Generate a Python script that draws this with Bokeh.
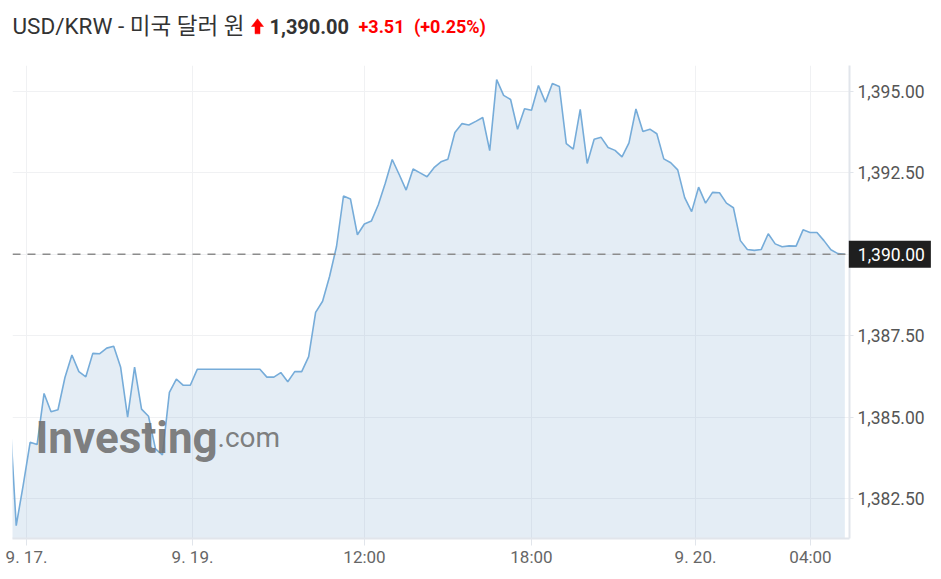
from bokeh.plotting import figure
from bokeh.layouts import column
from bokeh.models import Range1d, Span, Label, FixedTicker, NumeralTickFormatter
from bokeh.embed import file_html
from bokeh.resources import INLINE

# ---------------- data ----------------
title_text = "USD/KRW - 미국 달러 원"
last_price_text = "1,390.00"
change_text = "+3.51"
change_pct_text = "(+0.25%)"
last_price = 1390.00

prices = [
    1385.40, 1381.67, 1382.91, 1384.23, 1384.16, 1385.73, 1385.17, 1385.23, 1386.22, 1386.91,
    1386.40, 1386.24, 1386.96, 1386.95, 1387.12, 1387.18, 1386.53, 1385.00, 1386.54, 1385.25,
    1385.03, 1384.03, 1383.84, 1385.76, 1386.17, 1385.98, 1385.98, 1386.47, 1386.47, 1386.47,
    1386.47, 1386.47, 1386.47, 1386.47, 1386.47, 1386.47, 1386.47, 1386.23, 1386.23, 1386.37,
    1386.09, 1386.40, 1386.40, 1386.86, 1388.22, 1388.56, 1389.32, 1390.24, 1391.79, 1391.70,
    1390.60, 1390.93, 1391.02, 1391.52, 1392.18, 1392.91, 1392.45, 1391.97, 1392.62, 1392.50,
    1392.38, 1392.66, 1392.84, 1392.92, 1393.74, 1394.01, 1393.97, 1394.08, 1394.20, 1393.18,
    1395.36, 1394.88, 1394.75, 1393.84, 1394.47, 1394.42, 1395.18, 1394.67, 1395.24, 1395.15,
    1393.40, 1393.23, 1394.45, 1392.79, 1393.53, 1393.59, 1393.28, 1393.19, 1392.99, 1393.42,
    1394.46, 1393.77, 1393.84, 1393.70, 1392.93, 1392.81, 1392.59, 1391.74, 1391.31, 1392.06,
    1391.57, 1391.90, 1391.89, 1391.57, 1391.43, 1390.42, 1390.15, 1390.12, 1390.15, 1390.63,
    1390.32, 1390.23, 1390.26, 1390.25, 1390.75, 1390.67, 1390.67, 1390.42, 1390.14, 1390.02,
    1390.00,
]
steps = list(range(len(prices)))

x_tick_positions = [2.48, 26.32, 51.02, 75.0, 98.56, 115.07]
x_tick_labels = ["9. 17.", "9. 19.", "12:00", "18:00", "9. 20.", "04:00"]
y_ticks = [1382.5, 1385.0, 1387.5, 1390.0, 1392.5, 1395.0]

W = 937
LEFT, RIGHT = 12, 88
FRAME_W = W - LEFT - RIGHT
HEAD_H = 38

# ---------------- header (pixel-like coordinates, y downward) ----------------
h = figure(width=W, height=HEAD_H, output_backend="svg", toolbar_location=None,
           x_range=Range1d(0, FRAME_W), y_range=Range1d(HEAD_H, 0),
           x_axis_type=None, y_axis_type=None,
           min_border_left=LEFT, min_border_right=RIGHT, min_border_top=0, min_border_bottom=0)
h.outline_line_color = None
h.grid.visible = False

hy = 25.8
h.add_layout(Label(x=0, y=hy, text=title_text,
                   text_font="Roboto, 'Noto Sans CJK KR'", text_font_size="22.5px",
                   text_color="#333333", text_baseline="middle"))
# red up arrow icon
h.patch([239, 245, 251, 247.5, 247.5, 242.5, 242.5], [26, 18.3, 26, 26, 33.3, 33.3, 26],
        fill_color="#ff0000", line_color="#ff0000", line_width=0.5)
h.add_layout(Label(x=257, y=hy, text=last_price_text,
                   text_font="Roboto", text_font_style="bold", text_font_size="20px",
                   text_color="#333333", text_baseline="middle"))
h.add_layout(Label(x=346, y=hy, text=change_text,
                   text_font="Roboto", text_font_style="bold", text_font_size="18px",
                   text_color="#ff0000", text_baseline="middle"))
h.add_layout(Label(x=401.5, y=hy, text=change_pct_text,
                   text_font="Roboto", text_font_style="bold", text_font_size="18px",
                   text_color="#ff0000", text_baseline="middle"))

# ---------------- main chart ----------------
p = figure(width=W, height=535, output_backend="svg", toolbar_location=None,
           x_range=Range1d(0.468, 120.67), y_range=Range1d(1381.2775, 1395.795),
           y_axis_location="right",
           min_border_left=LEFT, min_border_right=RIGHT, min_border_top=25, min_border_bottom=35)
p.outline_line_color = None
p.background_fill_color = "white"
p.border_fill_color = "white"

grid_col = "#f0f1f3"
p.xgrid.grid_line_color = grid_col
p.ygrid.grid_line_color = grid_col

axis_col = "#e1e5eb"
label_font = "Roboto"

p.xaxis.ticker = FixedTicker(ticks=x_tick_positions)
p.xaxis.major_label_overrides = {t: l for t, l in zip(x_tick_positions, x_tick_labels)}
p.xaxis.axis_line_color = axis_col
p.xaxis.axis_line_width = 2
p.xaxis.major_tick_line_color = axis_col
p.xaxis.major_tick_out = 7
p.xaxis.major_tick_in = 0
p.xaxis.minor_tick_line_color = None
p.xaxis.major_label_text_font = label_font
p.xaxis.major_label_text_font_size = "17px"
p.xaxis.major_label_text_color = "#666666"
p.xaxis.major_label_standoff = 1

p.yaxis.ticker = FixedTicker(ticks=y_ticks)
p.yaxis.formatter = NumeralTickFormatter(format="0,0.00")
p.yaxis.axis_line_color = axis_col
p.yaxis.axis_line_width = 2
p.yaxis.major_tick_line_color = axis_col
p.yaxis.major_tick_out = 4
p.yaxis.major_tick_in = 0
p.yaxis.minor_tick_line_color = None
p.yaxis.major_label_text_font = label_font
p.yaxis.major_label_text_font_size = "17.5px"
p.yaxis.major_label_text_color = "#555555"
p.yaxis.major_label_standoff = 4

# watermark
p.add_layout(Label(x=23, y=101, x_units="screen", y_units="screen", text="Investing",
                   text_font="Roboto", text_font_style="bold", text_font_size="44px",
                   text_color="#707070", text_alpha=0.9, text_baseline="alphabetic"))
p.add_layout(Label(x=205, y=101, x_units="screen", y_units="screen", text=".com",
                   text_font="Roboto", text_font_size="28px",
                   text_color="#707070", text_alpha=0.9, text_baseline="alphabetic"))

# area + line
p.varea(x=steps, y1=1380.0, y2=prices, fill_color="#78a5cd", fill_alpha=0.2)
p.line(steps, prices, line_color="#76acd9", line_width=1.6)

# last price dashed line
p.add_layout(Span(location=last_price, dimension="width", line_color="#8c8c8c",
                  line_width=1.5, line_dash="8 7"))

# last price box, placed in the top side panel so it is not clipped by the frame
try:
    box = Label(x=FRAME_W - 0.7, y=last_price, x_units="screen", y_units="data", text=last_price_text,
                text_font="Roboto", text_font_size="17.5px", text_color="white",
                text_baseline="middle", text_align="left",
                background_fill_color="#1f1f1f",
                padding=dict(left=9, right=6, top=7, bottom=7))
except Exception:
    box = Label(x=FRAME_W - 0.7, y=last_price, x_units="screen", y_units="data", text=last_price_text,
                text_font="Roboto", text_font_size="17.5px", text_color="white",
                text_baseline="middle", text_align="left",
                background_fill_color="#1f1f1f", padding=7)
p.add_layout(box, "above")

open("out.html", "w").write(file_html(column(h, p, spacing=0), INLINE))
